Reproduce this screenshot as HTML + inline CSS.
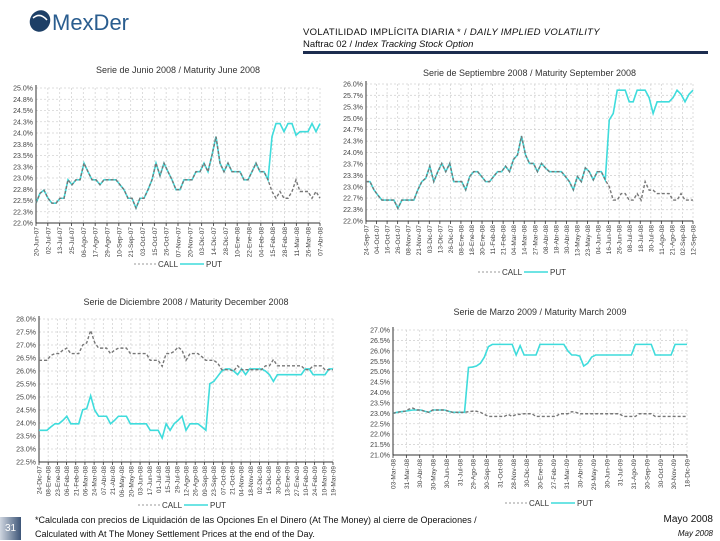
<!DOCTYPE html>
<html><head><meta charset="utf-8">
<style>
body{margin:0;width:720px;height:540px;background:#fff;position:relative;overflow:hidden;font-family:"Liberation Sans",sans-serif;}
.abs{position:absolute;}
</style></head>
<body>
<div class="abs" style="left:28px;top:6px;width:140px;height:30px;">
 <svg width="140" height="30"><ellipse cx="12" cy="15" rx="10" ry="11" fill="#1d3f66" transform="rotate(30 12 15)"/><path d="M5 12 Q12 6 19 14" stroke="#fff" stroke-width="1.5" fill="none"/>
 <text x="24" y="24" font-family="Liberation Sans" font-size="22" fill="#2a5d8f">MexDer</text></svg>
</div>
<div class="abs" style="left:303px;top:27px;font-size:9.5px;letter-spacing:0.3px;color:#111;">VOLATILIDAD IMPLÍCITA DIARIA * / <i>DAILY IMPLIED VOLATILITY</i></div>
<div class="abs" style="left:303px;top:39px;font-size:9.5px;color:#111;">Naftrac 02 / <i>Index Tracking Stock Option</i></div>
<div class="abs" style="left:303px;top:51px;width:405px;height:3px;background:#1c2d4f;"></div>

<svg id="charts" class="abs" style="left:0;top:0" width="720" height="540"></svg>

<div class="abs" style="left:0;top:517px;width:21px;height:23px;background:linear-gradient(90deg,#cfd6e0,#3d5577);color:#fff;font-size:10px;line-height:23px;text-align:center;">31</div>
<div class="abs" style="left:35px;top:513px;font-size:9px;line-height:14px;color:#111;">*Calculada con precios de Liquidación de las Opciones En el Dinero (At The Money) al cierre de Operaciones /<br>Calculated with At The Money Settlement Prices at the end of the Day.</div>
<div class="abs" style="right:7px;top:514px;font-size:10px;color:#111;">Mayo 2008</div>
<div class="abs" style="right:7px;top:529px;font-size:8px;font-style:italic;color:#111;">May 2008</div>

<script>
const put1=[22.44,22.66,22.73,22.55,22.44,22.44,22.55,22.55,22.96,22.85,22.96,22.96,23.33,23.14,22.96,22.96,22.85,22.96,22.96,22.96,22.96,22.85,22.74,22.55,22.55,22.33,22.55,22.55,22.74,22.96,23.33,23.05,23.33,23.14,22.96,22.74,22.74,22.96,22.96,22.96,23.14,23.14,23.33,23.14,23.51,23.92,23.33,23.14,23.33,23.14,23.14,23.14,22.96,22.96,23.14,23.33,23.14,23.14,22.96,23.92,24.21,24.21,24.03,24.21,24.21,23.95,24.03,24.03,24.03,24.21,24.03,24.21];
const call1=[22.44,22.66,22.73,22.55,22.44,22.44,22.55,22.55,22.96,22.85,22.96,22.96,23.33,23.14,22.96,22.96,22.85,22.96,22.96,22.96,22.96,22.85,22.74,22.55,22.55,22.33,22.55,22.55,22.74,22.96,23.33,23.05,23.33,23.14,22.96,22.74,22.74,22.96,22.96,22.96,23.14,23.14,23.33,23.14,23.51,23.92,23.33,23.14,23.33,23.14,23.14,23.14,22.96,22.96,23.14,23.33,23.14,23.14,22.96,22.7,22.55,22.7,22.55,22.55,22.7,22.96,22.7,22.7,22.7,22.55,22.7,22.55];
const ticks1=[22.0,22.25,22.5,22.75,23.0,23.25,23.5,23.75,24.0,24.25,24.5,24.75,25.0];
const dates1=["20-Jun-07","02-Jul-07","13-Jul-07","25-Jul-07","06-Ago-07","17-Ago-07","29-Ago-07","10-Sep-07","21-Sep-07","03-Oct-07","15-Oct-07","26-Oct-07","07-Nov-07","20-Nov-07","03-Dic-07","14-Dic-07","28-Dic-07","10-Ene-08","22-Ene-08","04-Feb-08","15-Feb-08","28-Feb-08","11-Mar-08","26-Mar-08","07-Abr-08"];

const put2=[23.15,23.15,22.91,22.75,22.61,22.61,22.61,22.61,22.37,22.61,22.61,22.61,22.61,22.91,23.15,23.25,23.6,23.15,23.44,23.68,23.44,23.68,23.15,23.15,23.15,22.91,23.3,23.44,23.44,23.3,23.15,23.15,23.3,23.44,23.44,23.6,23.44,23.8,23.93,24.48,23.93,23.68,23.68,23.44,23.68,23.55,23.44,23.44,23.44,23.44,23.3,23.15,22.91,23.3,23.15,23.55,23.44,23.2,23.44,23.44,23.2,24.95,25.14,25.82,25.82,25.82,25.48,25.48,25.82,25.82,25.82,25.6,25.14,25.48,25.48,25.48,25.48,25.6,25.82,25.7,25.48,25.7,25.82];
const call2=[23.15,23.15,22.91,22.75,22.61,22.61,22.61,22.61,22.37,22.61,22.61,22.61,22.61,22.91,23.15,23.25,23.6,23.15,23.44,23.68,23.44,23.68,23.15,23.15,23.15,22.91,23.3,23.44,23.44,23.3,23.15,23.15,23.3,23.44,23.44,23.6,23.44,23.8,23.93,24.48,23.93,23.68,23.68,23.44,23.68,23.55,23.44,23.44,23.44,23.44,23.3,23.15,22.91,23.3,23.15,23.55,23.44,23.2,23.44,23.44,23.2,23.0,22.61,22.61,22.8,22.8,22.61,22.61,22.8,22.61,23.15,22.9,22.9,22.8,22.8,22.8,22.8,22.61,22.61,22.8,22.61,22.61,22.61];
const ticks2=[22.0,22.33,22.67,23.0,23.33,23.67,24.0,24.33,24.67,25.0,25.33,25.67,26.0];
const dates2=["24-Sep-07","04-Oct-07","16-Oct-07","26-Oct-07","08-Nov-07","21-Nov-07","03-Dic-07","13-Dic-07","26-Dic-07","08-Ene-08","18-Ene-08","30-Ene-08","11-Feb-08","21-Feb-08","04-Mar-08","14-Mar-08","27-Mar-08","08-Abr-08","18-Abr-08","30-Abr-08","13-May-08","23-May-08","04-Jun-08","16-Jun-08","26-Jun-08","08-Jul-08","18-Jul-08","30-Jul-08","11-Ago-08","21-Ago-08","02-Sep-08","12-Sep-08"];

const put3=[23.72,23.72,23.72,23.85,23.97,23.97,24.1,24.26,23.97,23.97,23.97,24.51,24.55,25.05,24.5,24.26,24.26,24.26,23.97,24.1,24.26,24.26,24.26,23.97,23.97,23.97,23.97,23.97,23.72,23.72,23.72,23.42,23.97,23.72,23.97,24.1,24.26,23.72,23.97,23.97,23.97,23.85,23.72,25.51,25.6,25.8,26.0,26.08,26.08,26.0,25.86,26.08,25.86,26.08,26.08,26.08,26.08,26.0,25.86,25.6,25.86,25.86,25.86,25.86,25.86,25.86,25.86,26.08,26.08,25.86,25.86,25.86,25.86,26.08,26.08];
const call3=[26.41,26.41,26.41,26.6,26.67,26.67,26.8,26.88,26.67,26.67,26.67,27.0,27.08,27.56,27.1,26.88,26.88,26.88,26.67,26.8,26.88,26.88,26.88,26.67,26.67,26.67,26.67,26.67,26.41,26.41,26.41,26.18,26.67,26.67,26.75,26.92,26.8,26.41,26.67,26.67,26.67,26.55,26.41,26.41,26.41,26.3,26.05,26.05,26.05,26.0,26.2,26.05,26.05,26.05,26.05,26.05,26.05,26.2,26.2,26.44,26.2,26.2,26.2,26.2,26.2,26.2,26.2,26.05,26.05,26.2,26.2,26.2,26.05,26.05,26.05];
const ticks3=[22.5,23.0,23.5,24.0,24.5,25.0,25.5,26.0,26.5,27.0,27.5,28.0];
const dates3=["24-Dic-07","08-Ene-08","23-Ene-08","06-Feb-08","21-Feb-08","06-Mar-08","24-Mar-08","07-Abr-08","21-Abr-08","06-May-08","20-May-08","03-Jun-08","17-Jun-08","01-Jul-08","15-Jul-08","29-Jul-08","12-Ago-08","26-Ago-08","09-Sep-08","23-Sep-08","07-Oct-08","21-Oct-08","04-Nov-08","18-Nov-08","02-Dic-08","16-Dic-08","30-Dic-08","13-Ene-09","27-Ene-09","10-Feb-09","24-Feb-09","10-Mar-09","19-Mar-09"];

const put4=[23.0,23.05,23.08,23.1,23.13,23.16,23.16,23.16,23.1,23.05,23.16,23.16,23.16,23.16,23.1,23.05,23.05,23.05,23.05,25.2,25.22,25.27,25.4,25.7,26.2,26.31,26.31,26.31,26.31,26.31,26.31,25.8,26.25,25.8,25.8,25.8,25.8,26.31,26.31,26.31,26.31,26.31,26.31,26.31,26.0,25.8,25.8,25.75,25.27,25.4,25.7,25.8,25.8,25.8,25.8,25.8,25.8,25.8,25.8,25.8,25.8,26.31,26.31,26.31,26.31,26.31,25.8,25.8,25.8,25.8,25.8,26.31,26.31,26.31,26.31];
const call4=[23.0,23.05,23.08,23.1,23.2,23.25,23.16,23.16,23.1,23.05,23.16,23.16,23.16,23.16,23.1,23.05,23.05,23.05,23.05,23.08,23.1,23.1,23.05,22.95,22.85,22.85,22.85,22.85,22.85,22.95,22.85,22.95,22.95,22.98,22.98,22.98,22.85,22.85,22.85,22.85,22.85,22.85,22.98,22.98,22.98,23.08,23.05,22.98,22.98,22.98,22.98,22.98,22.98,22.98,22.98,22.98,22.98,22.98,22.85,22.85,22.85,22.85,22.98,22.98,22.98,22.98,22.85,22.85,22.85,22.85,22.85,22.85,22.85,22.85,22.85];
const ticks4=[21.0,21.5,22.0,22.5,23.0,23.5,24.0,24.5,25.0,25.5,26.0,26.5,27.0];
const dates4=["03-Mar-08","31-Mar-08","30-Abr-08","30-May-08","30-Jun-08","31-Jul-08","29-Ago-08","30-Sep-08","31-Oct-08","28-Nov-08","30-Dic-08","30-Ene-09","27-Feb-09","31-Mar-09","30-Abr-09","29-May-09","30-Jun-09","31-Jul-09","31-Ago-09","30-Sep-09","30-Oct-09","30-Nov-09","18-Dic-09"];

const NS="http://www.w3.org/2000/svg";
const svg=document.getElementById('charts');
function mk(tag,attrs,parent){const e=document.createElementNS(NS,tag);for(const k in attrs)e.setAttribute(k,attrs[k]);(parent||svg).appendChild(e);return e;}

function drawChart(id,title,L,R,T,B,ticks,dates,put,call,legY,legX,titleY){
  const g=mk('g',{});
  
  
  const yMin=ticks[0],yMax=ticks[ticks.length-1];
  const ys=v=>B-(v-yMin)/(yMax-yMin)*(B-T);
  const n=put.length;
  const xs=i=>L+i/(n-1)*(R-L);
  const xl=j=>L+j/(dates.length-1)*(R-L);
  const t=mk('text',{x:(L+R)/2,y:titleY,'text-anchor':'middle','font-size':9,fill:'#333','font-family':'Liberation Sans'},g);
  t.textContent=title;
  
  
  ticks.forEach(v=>{
    const y=ys(v);
    mk('line',{x1:L,x2:R,y1:y,y2:y,stroke:'#d4d4d4','stroke-dasharray':'2,2','stroke-width':0.8},g);
    const lb=mk('text',{x:L-3,y:y+2.5,'text-anchor':'end','font-size':7,fill:'#444','font-family':'Liberation Sans'},g);
    lb.textContent=v.toFixed(1)+'%';
    
    
  });
  dates.forEach((d,j)=>{
    const x=xl(j);
    mk('line',{x1:x,x2:x,y1:T,y2:B,stroke:'#d4d4d4','stroke-dasharray':'2,2','stroke-width':0.8},g);
    mk('line',{x1:x,x2:x,y1:B,y2:B+3,stroke:'#333','stroke-width':0.8},g);
    const lb=mk('text',{x:x+2.5,y:B+4,'text-anchor':'end','font-size':6.5,fill:'#444','font-family':'Liberation Sans',transform:`rotate(-90 ${x+2.5} ${B+4})`},g);
    lb.textContent=d;
    
    
  });
  mk('line',{x1:L,x2:L,y1:T-3,y2:B,stroke:'#333','stroke-width':1},g);
  mk('line',{x1:L,x2:R,y1:B,y2:B,stroke:'#333','stroke-width':1},g);
  const pp=mk('polyline',{points:put.map((v,i)=>xs(i)+','+ys(v)).join(' '),fill:'none',stroke:'#3fdcdc','stroke-width':1.6},g);
  
  
  const cp=mk('polyline',{points:call.map((v,i)=>xs(i)+','+ys(v)).join(' '),fill:'none',stroke:'#777','stroke-width':1.4,'stroke-dasharray':'3,2'},g);
  
  
  mk('line',{x1:legX,x2:legX+22,y1:legY,y2:legY,stroke:'#999','stroke-dasharray':'2,2'},g);
  const c=mk('text',{x:legX+24,y:legY+3,'font-size':8,fill:'#333','font-family':'Liberation Sans'},g);c.textContent='CALL';
  
  
  mk('line',{x1:legX+46,x2:legX+70,y1:legY,y2:legY,stroke:'#3fdcdc','stroke-width':1.6},g);
  const p=mk('text',{x:legX+72,y:legY+3,'font-size':8,fill:'#333','font-family':'Liberation Sans'},g);p.textContent='PUT';
  
  
}
drawChart('chart-june-2008','Serie de Junio 2008 / Maturity June 2008',36,320,88,223,ticks1,dates1,put1,call1,264,134,73);
drawChart('chart-september-2008','Serie de Septiembre 2008 / Maturity September 2008',366,693,84,221,ticks2,dates2,put2,call2,272,478,76);
drawChart('chart-december-2008','Serie de Diciembre 2008 / Maturity December 2008',39,333,319,462,ticks3,dates3,put3,call3,505,138,305);
drawChart('chart-march-2009','Serie de Marzo 2009 / Maturity March 2009',393,687,330,455,ticks4,dates4,put4,call4,503,505,315);
</script>
</body></html>
